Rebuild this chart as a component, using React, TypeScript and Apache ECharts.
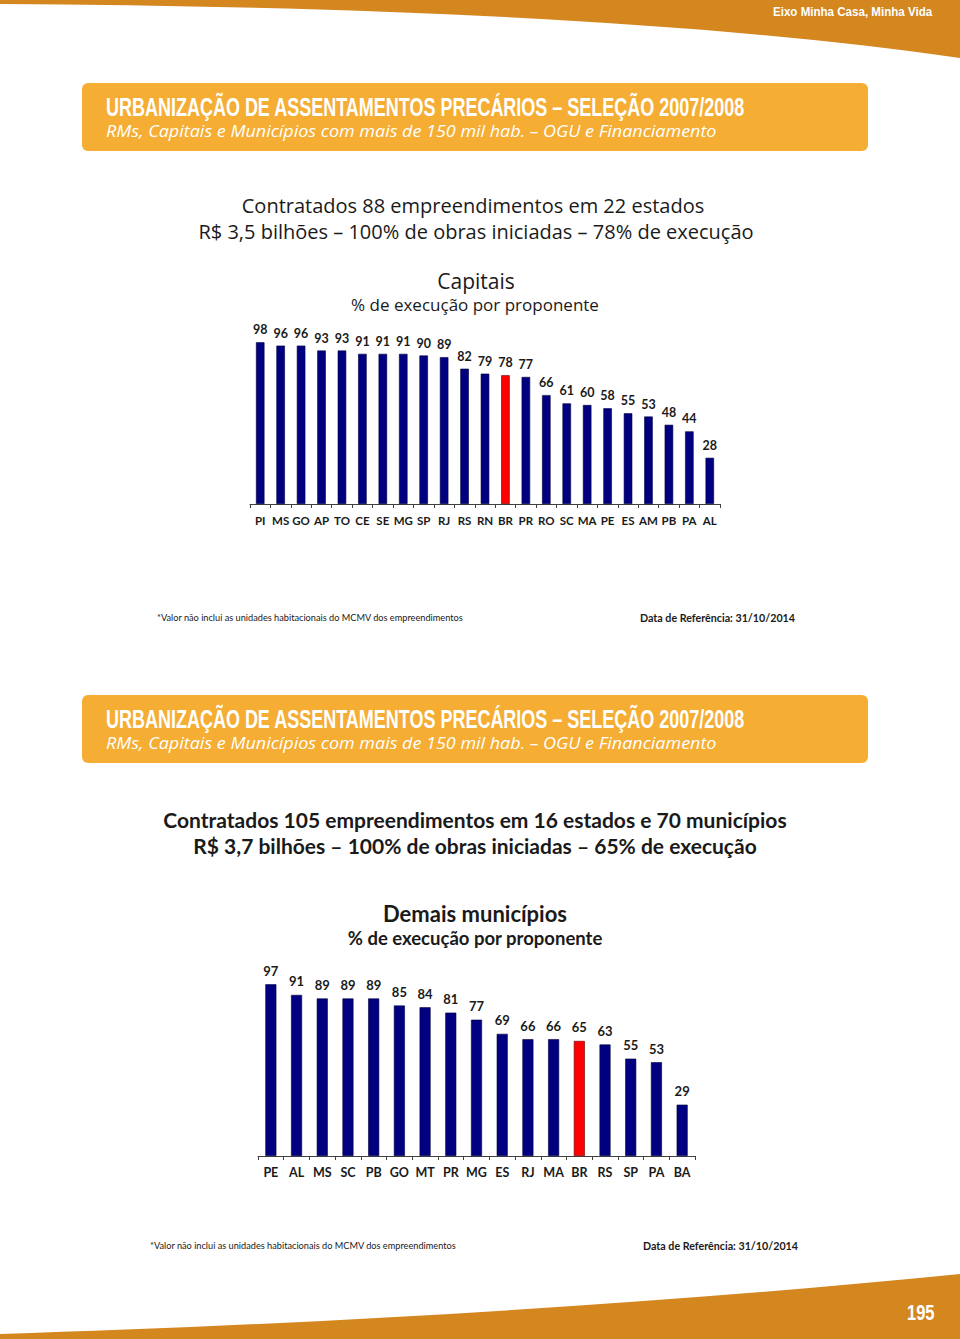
import React, { useEffect, useRef } from "react";
import * as echarts from "echarts";

const capitaisCategories = ["PI", "MS", "GO", "AP", "TO", "CE", "SE", "MG", "SP", "RJ", "RS", "RN", "BR", "PR", "RO", "SC", "MA", "PE", "ES", "AM", "PB", "PA", "AL"];
const capitaisValues = [98, 96, 96, 93, 93, 91, 91, 91, 90, 89, 82, 79, 78, 77, 66, 61, 60, 58, 55, 53, 48, 44, 28];
const municipiosCategories = ["PE", "AL", "MS", "SC", "PB", "GO", "MT", "PR", "MG", "ES", "RJ", "MA", "BR", "RS", "SP", "PA", "BA"];
const municipiosValues = [97, 91, 89, 89, 89, 85, 84, 81, 77, 69, 66, 66, 65, 63, 55, 53, 29];
const highlightCategory = "BR";

const bannerTitle = "URBANIZAÇÃO DE ASSENTAMENTOS PRECÁRIOS – SELEÇÃO 2007/2008";
const bannerSubtitle = "RMs, Capitais e Municípios com mais de 150 mil hab. – OGU e Financiamento";
const footNote = "*Valor não inclui as unidades habitacionais do MCMV dos empreendimentos";
const refDate = "Data de Referência: 31/10/2014";

echarts.graphic.registerShape(
  "topBand",
  echarts.graphic.extendPath("M0 0 L960 0 L960 58 C 700 20 350 6 0 4 Z", {})
);
echarts.graphic.registerShape(
  "bottomBand",
  echarts.graphic.extendPath("M0 1339 L0 1334 C 300 1325 650 1305 960 1274 L960 1339 Z", {})
);

const NAVY = "#000080";
const RED = "#FF0000";
const ORANGE = "#D4861F";
const BANNER = "#F5AD33";

function barData(cats: string[], vals: number[]) {
  return vals.map((v, i) =>
    cats[i] === highlightCategory
      ? { value: v, itemStyle: { color: RED, borderColor: "#600000" } }
      : { value: v }
  );
}

function banner(y: number) {
  return [
    { type: "rect", shape: { x: 82, y, width: 786, height: 68, r: 6 }, style: { fill: BANNER } },
    {
      type: "text", x: 106, y: y + 24, scaleX: 0.72,
      style: { text: bannerTitle, fill: "#fff", font: "bold 25px 'Liberation Sans'", textAlign: "left", textVerticalAlign: "middle" },
    },
    {
      type: "text", x: 106, y: y + 48, scaleX: 1.16,
      style: { text: bannerSubtitle, fill: "#fff", font: "italic 15.5px 'Open Sans'", textAlign: "left", textVerticalAlign: "middle" },
    },
  ];
}

function centerText(text: string, x: number, y: number, font: string, fill = "#1a1a1a") {
  return { type: "text", x, y, style: { text, fill, font, textAlign: "center", textVerticalAlign: "middle" } };
}
function leftText(text: string, x: number, y: number, font: string, fill = "#1a1a1a") {
  return { type: "text", x, y, style: { text, fill, font, textAlign: "left", textVerticalAlign: "middle" } };
}

export default function App() {
  const ref = useRef<HTMLDivElement>(null);
  useEffect(() => {
    if (!ref.current) return;
    const chart = echarts.init(ref.current, undefined, { renderer: "svg" });
    const axisCommon = (gridIndex: number, data: string[], fontSize: number) => ({
      type: "category",
      gridIndex,
      data,
      axisLine: { lineStyle: { color: "#404040", width: 1 } },
      axisTick: { show: true, length: 4, lineStyle: { color: "#404040" } },
      axisLabel: { interval: 0, margin: 10, color: "#1a1a1a", fontSize, fontWeight: "bold", fontFamily: "Lato" },
    });
    const labelCommon = (fontSize: number, distance: number) => ({
      show: true, position: "top", distance, color: "#1a1a1a", fontSize, fontWeight: "bold", fontFamily: "Lato",
    });
    const option: any = {
      animation: false,
      grid: [
        { left: 250, top: 339, width: 470, height: 165 },
        { left: 258, top: 979, width: 437, height: 177 },
      ],
      xAxis: [axisCommon(0, capitaisCategories, 11.5), axisCommon(1, municipiosCategories, 12.5)],
      yAxis: [
        { type: "value", gridIndex: 0, min: 0, max: 100, show: false },
        { type: "value", gridIndex: 1, min: 0, max: 100, show: false },
      ],
      series: [
        {
          type: "bar", xAxisIndex: 0, yAxisIndex: 0, barWidth: 8.5,
          data: barData(capitaisCategories, capitaisValues),
          itemStyle: { color: NAVY, borderColor: "#00003a", borderWidth: 0.6 },
          label: labelCommon(12.5, 6),
        },
        {
          type: "bar", xAxisIndex: 1, yAxisIndex: 1, barWidth: 11,
          data: barData(municipiosCategories, municipiosValues),
          itemStyle: { color: NAVY, borderColor: "#00003a", borderWidth: 0.6 },
          label: labelCommon(13, 7),
        },
      ],
      graphic: [
        { type: "topBand", x: 0, y: 0, style: { fill: ORANGE } },
        { type: "bottomBand", x: 0, y: 0, style: { fill: ORANGE } },
        {
          type: "text", x: 773, y: 12, scaleX: 0.89,
          style: { text: "Eixo Minha Casa, Minha Vida", fill: "#fff", font: "bold 13px 'Liberation Sans'", textAlign: "left", textVerticalAlign: "middle" },
        },
        {
          type: "text", x: 907, y: 1312, scaleX: 0.75,
          style: { text: "195", fill: "#fff", font: "bold 22px 'Liberation Sans'", textAlign: "left", textVerticalAlign: "middle" },
        },
        ...banner(83),
        ...banner(695),
        centerText("Contratados 88 empreendimentos em 22 estados", 473, 205, "500 20px 'Open Sans'"),
        centerText("R$ 3,5 bilhões – 100% de obras iniciadas – 78% de execução", 476, 231, "500 20px 'Open Sans'"),
        centerText("Capitais", 476, 281, "500 21px 'Open Sans'"),
        centerText("% de execução por proponente", 475, 304, "500 17px 'Open Sans'"),
        leftText(footNote, 157, 617, "9.2px Lato"),
        leftText(refDate, 640, 617, "bold 10.7px Lato"),
        centerText("Contratados 105 empreendimentos em 16 estados e 70 municípios", 475, 819, "bold 21px Lato"),
        centerText("R$ 3,7 bilhões – 100% de obras iniciadas – 65% de execução", 475, 845, "bold 21px Lato"),
        centerText("Demais municípios", 475, 913, "bold 22px Lato"),
        centerText("% de execução por proponente", 475, 938, "bold 18.5px Lato"),
        leftText(footNote, 150, 1245, "9.2px Lato"),
        leftText(refDate, 643, 1245, "bold 10.7px Lato"),
      ],
    };
    chart.setOption(option);
    return () => chart.dispose();
  }, []);
  return (
    <div
      ref={ref}
      style={{ position: "absolute", left: 0, top: 0, width: 960, height: 1339, background: "#fff" }}
    />
  );
}
